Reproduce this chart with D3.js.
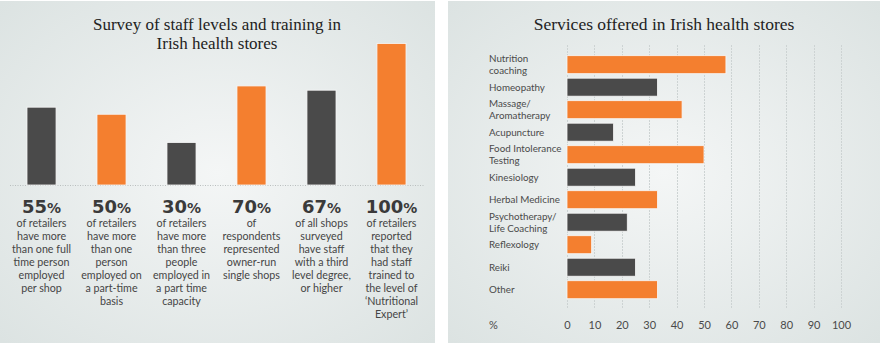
<!DOCTYPE html>
<html>
<head>
<meta charset="utf-8">
<script src="https://cdn.jsdelivr.net/npm/d3@7"></script>
<style>
  html, body { margin: 0; padding: 0; background: #ffffff; }
  svg { display: block; }
</style>
</head>
<body>
<div id="chart"></div>
<script>
// Survey panel (left)
const surveyValues = [55, 50, 30, 70, 67, 100];
const surveyNotes = [
  ['of retailers', 'have more', 'than one full', 'time person', 'employed', 'per shop'],
  ['of retailers', 'have more', 'than one', 'person', 'employed on', 'a part-time', 'basis'],
  ['of retailers', 'have more', 'than three', 'people', 'employed in', 'a part time', 'capacity'],
  ['of', 'respondents', 'represented', 'owner-run', 'single shops'],
  ['of all shops', 'surveyed', 'have staff', 'with a third', 'level degree,', 'or higher'],
  ['of retailers', 'reported', 'that they', 'had staff', 'trained to', 'the level of', '\u2018Nutritional', 'Expert\u2019']
];

// Services panel (right)
const services = [
  ['Nutrition', 'coaching'],
  ['Homeopathy'],
  ['Massage/', 'Aromatherapy'],
  ['Acupuncture'],
  ['Food Intolerance', 'Testing'],
  ['Kinesiology'],
  ['Herbal Medicine'],
  ['Psychotherapy/', 'Life Coaching'],
  ['Reflexology'],
  ['Reiki'],
  ['Other']
];
const serviceValues = [58, 33, 42, 17, 50, 25, 33, 22, 9, 25, 33];
const serviceTicks = [0, 10, 20, 30, 40, 50, 60, 70, 80, 90, 100];

const W = 880, H = 344;
const ORANGE = '#f47f2f', DARK = '#4a4a4a';
const SERIF = '"Liberation Serif", "DejaVu Serif", serif';
const SANS = 'Lato, "Open Sans", sans-serif';
const BOLD = '"DejaVu Sans", sans-serif';

const svg = d3.select('#chart').append('svg')
  .attr('width', W)
  .attr('height', H)
  .attr('viewBox', [0, 0, W, H]);

const defs = svg.append('defs');
const grad = defs.append('radialGradient')
  .attr('id', 'panelBg')
  .attr('cx', '50%').attr('cy', '50%').attr('r', '70%');
grad.append('stop').attr('offset', '0%').attr('stop-color', '#f4f6f6');
grad.append('stop').attr('offset', '100%').attr('stop-color', '#dce3e2');

// panel backgrounds
svg.append('rect').attr('x', 0).attr('y', 1).attr('width', 435).attr('height', 342)
  .attr('fill', 'url(#panelBg)');
svg.append('rect').attr('x', 448).attr('y', 1).attr('width', 432).attr('height', 342)
  .attr('fill', 'url(#panelBg)');

// ---------- left: survey bars ----------
const left = svg.append('g');

left.append('g')
  .selectAll('text')
  .data(['Survey of staff levels and training in', 'Irish health stores'])
  .join('text')
  .attr('x', 217)
  .attr('y', (_, i) => 29.5 + i * 19)
  .attr('font-family', SERIF)
  .attr('font-size', 17)
  .attr('fill', '#222')
  .attr('text-anchor', 'middle')
  .text(d => d);

const baseY = 185;
const x1 = d3.scaleBand()
  .domain(d3.range(surveyValues.length))
  .range([6, 427])
  .paddingInner(0.585)
  .paddingOuter(0.3);

const y1 = d3.scaleLinear()
  .domain([0, 100])
  .range([baseY, 43.5]);

left.append('line')
  .attr('x1', 10).attr('x2', 424)
  .attr('y1', baseY + 0.5).attr('y2', baseY + 0.5)
  .attr('stroke', '#b9bebe')
  .attr('stroke-dasharray', '1,1.5');

left.append('g')
  .selectAll('rect')
  .data(surveyValues)
  .join('rect')
  .attr('x', (_, i) => x1(i))
  .attr('y', d => y1(d))
  .attr('width', x1.bandwidth())
  .attr('height', d => baseY - y1(d))
  .attr('fill', (_, i) => i % 2 ? ORANGE : DARK)
  .attr('stroke', '#f7f7f7')
  .attr('stroke-width', 0.8);

const notes = left.append('g')
  .selectAll('g')
  .data(surveyValues)
  .join('g')
  .attr('transform', (_, i) => `translate(${x1(i) + x1.bandwidth() / 2},0)`);

notes.append('text')
  .attr('y', 212.5)
  .attr('text-anchor', 'middle')
  .attr('fill', '#3a3a3a')
  .attr('font-family', BOLD)
  .attr('font-weight', 'bold')
  .attr('font-size', 18)
  .call(t => t.append('tspan').text(d => d))
  .call(t => t.append('tspan').attr('font-size', 14).text('%'));

notes.append('text')
  .attr('text-anchor', 'middle')
  .attr('fill', '#454545')
  .attr('font-family', SANS)
  .attr('font-size', 10.7)
  .selectAll('tspan')
  .data((_, i) => surveyNotes[i])
  .join('tspan')
  .attr('x', 0)
  .attr('y', (_, j) => 227 + j * 13)
  .text(d => d);

// ---------- right: services bars ----------
const right = svg.append('g');

right.append('text')
  .attr('x', 664)
  .attr('y', 30)
  .attr('font-family', SERIF)
  .attr('font-size', 17.5)
  .attr('fill', '#222')
  .attr('text-anchor', 'middle')
  .text('Services offered in Irish health stores');

const x2 = d3.scaleLinear()
  .domain([0, 100])
  .range([567, 841]);

const y2 = d3.scaleBand()
  .domain(d3.range(services.length))
  .range([52.3, 302.1])
  .paddingInner(0.2)
  .paddingOuter(0.15);

right.append('g')
  .selectAll('line')
  .data(serviceTicks)
  .join('line')
  .attr('x1', d => Math.round(x2(d)) + 0.5)
  .attr('x2', d => Math.round(x2(d)) + 0.5)
  .attr('y1', 45)
  .attr('y2', 308)
  .attr('stroke', '#cdd3d3')
  .attr('stroke-dasharray', '2,1');

right.append('g')
  .selectAll('rect')
  .data(serviceValues)
  .join('rect')
  .attr('x', x2(0))
  .attr('y', (_, i) => y2(i))
  .attr('width', d => x2(d) - x2(0))
  .attr('height', y2.bandwidth())
  .attr('fill', (_, i) => i % 2 ? DARK : ORANGE)
  .attr('stroke', '#f7f7f7')
  .attr('stroke-width', 0.8);

right.append('g')
  .selectAll('text')
  .data(services)
  .join('text')
  .attr('font-family', SANS)
  .attr('font-size', 9.8)
  .attr('fill', '#4a4a4a')
  .each(function (lines, i) {
    const cy = y2(i) + y2.bandwidth() / 2;
    const top = lines.length > 1 ? cy - 2.4 : cy + 3.5;
    d3.select(this).selectAll('tspan')
      .data(lines)
      .join('tspan')
      .attr('x', 489)
      .attr('y', (_, j) => top + j * 11.8)
      .text(d => d);
  });

const axis = right.append('g')
  .attr('transform', 'translate(0,329)')
  .call(d3.axisBottom(x2).tickValues(serviceTicks).tickSize(0).tickPadding(0));
axis.select('.domain').remove();
axis.selectAll('text')
  .attr('dy', 0)
  .attr('font-family', SANS)
  .attr('font-size', 11)
  .attr('fill', '#4a4a4a');

right.append('text')
  .attr('x', 489)
  .attr('y', 329)
  .attr('font-family', SANS)
  .attr('font-size', 11)
  .attr('fill', '#4a4a4a')
  .text('%');
</script>
</body>
</html>
